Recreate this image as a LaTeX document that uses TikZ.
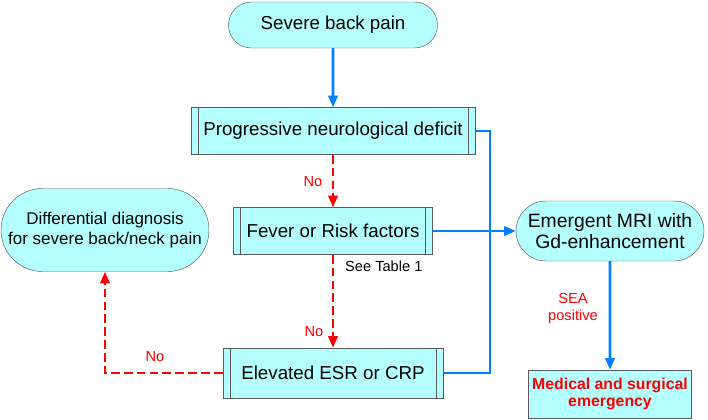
\documentclass[tikz,border=0pt]{standalone}
\usepackage{fontspec}
\setmainfont{Liberation Sans}
\usetikzlibrary{shapes.misc,arrows.meta}
\definecolor{boxfill}{RGB}{180,255,255}
\definecolor{boxline}{RGB}{90,90,90}
\definecolor{flowblue}{RGB}{0,128,255}
\definecolor{flowred}{RGB}{255,0,0}
\tikzset{
  term/.style={rounded rectangle, draw=boxline, fill=boxfill, align=center, inner sep=0pt,
    font=\fontsize{16}{18.5}\selectfont},
  proc/.style={rectangle, draw=boxline, fill=boxfill, inner sep=0pt,
    font=\fontsize{16}{18.5}\selectfont,
    path picture={
      \draw[boxline] ([xshift=0.21cm]path picture bounding box.north west) -- ([xshift=0.21cm]path picture bounding box.south west);
      \draw[boxline] ([xshift=-0.21cm]path picture bounding box.north east) -- ([xshift=-0.21cm]path picture bounding box.south east);}},
  yesline/.style={flowblue, line width=2.2pt},
  yesarrow/.style={yesline, -{Triangle[length=10pt,width=8pt]}},
  noarrow/.style={flowred, line width=2.2pt, dash pattern=on 7.5pt off 3.5pt, -{Triangle[length=10pt,width=8pt]}},
  lbl/.style={font=\fontsize{12.5}{14.5}\selectfont}
}
\begin{document}
\begin{tikzpicture}[x=0.03cm,y=-0.03cm]
\useasboundingbox (0,0) rectangle (708,419);
% boxes
\node[term, minimum width=6.27cm, minimum height=1.38cm] (pain) at (333,25) {Severe back pain};
\node[proc, minimum width=8.52cm, minimum height=1.41cm] (deficit) at (333,131) {Progressive neurological deficit};
\node[proc, minimum width=5.97cm, minimum height=1.41cm] (fever) at (333,231) {Fever or Risk factors};
\node[proc, minimum width=6.6cm, minimum height=1.5cm] (esr) at (333,373) {Elevated ESR or CRP};
\node[term, minimum width=6.24cm, minimum height=2.49cm, font=\fontsize{14.5}{17}\selectfont] (ddx) at (105,230) {Differential diagnosis\\for severe back/neck pain};
\node[term, minimum width=5.64cm, minimum height=1.8cm, font=\fontsize{16.5}{18}\selectfont] (mri) at (610,231) {Emergent MRI with\\Gd-enhancement};
\node[rectangle, draw=boxline, fill=boxfill, minimum width=4.83cm, minimum height=1.44cm, align=center,
  text=flowred, font=\bfseries\fontsize{13.5}{14.5}\selectfont] (emerg) at (610,394) {Medical and surgical\\emergency};
% yes paths
\coordinate (bustop) at (490,131);
\coordinate (busbot) at (490,373);
\draw[yesarrow] (pain) -- (deficit);
\draw[yesline] (deficit.east) -- (bustop) -- (busbot) -- (esr.east);
\draw[yesarrow] (fever) -- (mri);
\draw[yesarrow] (mri) -- (emerg);
% no paths
\draw[noarrow] (deficit) -- (fever);
\draw[noarrow] (fever) -- (esr);
\draw[noarrow] (esr.west) -| (ddx.south);
% labels
\node[lbl, text=flowred] (no1) at (313,182) {No};
\node[lbl, text=flowred] (no2) at (314,332) {No};
\node[lbl, text=flowred] (no3) at (155,357) {No};
\node[lbl, anchor=west] (table) at (341,266) {See Table 1};
\node[lbl, text=flowred, align=center] (sea) at (573,308) {SEA\\positive};
\end{tikzpicture}
\end{document}
